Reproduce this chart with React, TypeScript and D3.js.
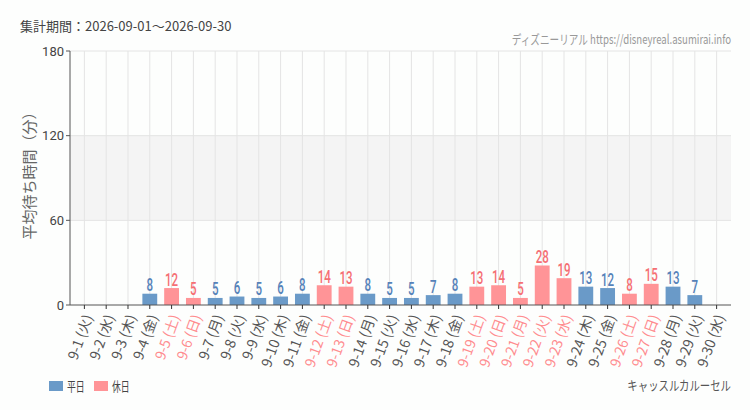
import { useEffect, useRef } from 'react'
import * as d3 from 'd3'

// 日付・曜日・待ち時間（分）
const days = [
  '9-1', '9-2', '9-3', '9-4', '9-5', '9-6', '9-7', '9-8', '9-9', '9-10',
  '9-11', '9-12', '9-13', '9-14', '9-15', '9-16', '9-17', '9-18', '9-19', '9-20',
  '9-21', '9-22', '9-23', '9-24', '9-25', '9-26', '9-27', '9-28', '9-29', '9-30'
]
const weekdays = [
  '火', '水', '木', '金', '土', '日', '月', '火', '水', '木',
  '金', '土', '日', '月', '火', '水', '木', '金', '土', '日',
  '月', '火', '水', '木', '金', '土', '日', '月', '火', '水'
]
const holidays = [
  '9-5', '9-6', '9-12', '9-13', '9-19', '9-20', '9-21', '9-22', '9-23', '9-26', '9-27'
]
const waitTimes: (number | null)[] = [
  null, null, null, 8, 12, 5, 5, 6, 5, 6,
  8, 14, 13, 8, 5, 5, 7, 8, 13, 14,
  5, 28, 19, 13, 12, 8, 15, 13, 7, null
]
const yTicks = [0, 60, 120, 180]

const W = 750
const H = 410
const margin = { top: 51, right: 19, bottom: 105, left: 70 }

const WEEKDAY_BAR = '#6a9ac8'
const HOLIDAY_BAR = '#ff9497'
const WEEKDAY_TEXT = '#5582b9'
const HOLIDAY_TEXT = '#f56f74'
const HOLIDAY_LABEL = '#ff8c8f'
const SANS = '"Roboto", "DejaVu Sans", sans-serif'
const JP = '"Noto Sans CJK JP", sans-serif'

export default function App() {
  const svgRef = useRef<SVGSVGElement>(null)

  useEffect(() => {
    if (!svgRef.current) return
    const svg = d3.select(svgRef.current)
    svg.selectAll('*').remove()

    const cw = W - margin.left - margin.right
    const ch = H - margin.top - margin.bottom

    svg.append('rect').attr('width', W).attr('height', H).attr('fill', '#fdfefd')

    const x = d3.scaleBand().domain(days).range([0, cw]).padding(0.32)
    const y = d3.scaleLinear().domain([0, 180]).range([ch, 0])
    const cx = (d: string) => (x(d) || 0) + x.bandwidth() / 2
    const isHoliday = (d: string) => holidays.includes(d)

    const g = svg.append('g').attr('transform', `translate(${margin.left},${margin.top})`)

    // 60-120 の帯
    g.append('rect')
      .attr('x', 0)
      .attr('y', y(120))
      .attr('width', cw)
      .attr('height', y(60) - y(120))
      .attr('fill', '#f4f4f4')

    // グリッド
    g.selectAll('.hgrid')
      .data(yTicks.filter(t => t > 0))
      .enter()
      .append('line')
      .attr('x1', 0)
      .attr('x2', cw)
      .attr('y1', d => y(d))
      .attr('y2', d => y(d))
      .attr('stroke', '#e4e4e4')

    g.selectAll('.vgrid')
      .data(days)
      .enter()
      .append('line')
      .attr('x1', d => cx(d))
      .attr('x2', d => cx(d))
      .attr('y1', 0)
      .attr('y2', ch)
      .attr('stroke', '#e4e4e4')

    // 棒
    const data = days.map((d, i) => ({ day: d, value: waitTimes[i] }))
    const valid = data.filter(d => d.value !== null) as { day: string; value: number }[]

    g.selectAll('.bar')
      .data(valid)
      .enter()
      .append('rect')
      .attr('x', d => x(d.day) || 0)
      .attr('y', d => y(d.value))
      .attr('width', x.bandwidth())
      .attr('height', d => ch - y(d.value))
      .attr('fill', d => (isHoliday(d.day) ? HOLIDAY_BAR : WEEKDAY_BAR))

    // 値ラベル（縦長の書体に見せるため横方向を縮める）
    g.selectAll('.value-label')
      .data(valid)
      .enter()
      .append('text')
      .attr('transform', d => `translate(${cx(d.day)},${y(d.value) - 2.5}) scale(0.64,1)`)
      .attr('text-anchor', 'middle')
      .style('font-family', SANS)
      .style('font-size', '18px')
      .style('font-weight', '500')
      .style('fill', d => (isHoliday(d.day) ? HOLIDAY_TEXT : WEEKDAY_TEXT))
      .text(d => d.value)

    // Y軸
    g.append('line').attr('x1', 0).attr('x2', 0).attr('y1', 0).attr('y2', ch).attr('stroke', '#555')
    const yt = g.selectAll('.ytick').data(yTicks).enter().append('g')
    yt.append('line')
      .attr('x1', -4)
      .attr('x2', 0)
      .attr('y1', d => y(d))
      .attr('y2', d => y(d))
      .attr('stroke', '#555')
    yt.append('text')
      .attr('x', -6)
      .attr('y', d => y(d))
      .attr('dy', '0.35em')
      .attr('text-anchor', 'end')
      .style('font-family', SANS)
      .style('font-size', '13px')
      .style('fill', '#444')
      .text(d => d)

    // X軸
    g.append('line').attr('x1', 0).attr('x2', cw).attr('y1', ch).attr('y2', ch).attr('stroke', '#555')
    g.selectAll('.xtick')
      .data(days)
      .enter()
      .append('line')
      .attr('x1', d => cx(d))
      .attr('x2', d => cx(d))
      .attr('y1', ch)
      .attr('y2', ch + 4)
      .attr('stroke', '#333')

    g.selectAll('.xlabel')
      .data(days)
      .enter()
      .append('text')
      .attr('transform', d => `translate(${cx(d) + 4},${ch + 10}) rotate(-70)`)
      .attr('text-anchor', 'end')
      .attr('dy', '0.35em')
      .style('font-family', JP)
      .style('font-size', '14px')
      .style('fill', d => (isHoliday(d) ? HOLIDAY_LABEL : '#555'))
      .text((d, i) => `${d} (${weekdays[i]})`)

    // Y軸タイトル
    svg.append('text')
      .attr('transform', 'translate(35,172) rotate(-90)')
      .attr('text-anchor', 'middle')
      .style('font-family', JP)
      .style('font-size', '15px')
      .style('fill', '#666')
      .text('平均待ち時間（分）')

    // タイトル・出典
    svg.append('text')
      .attr('x', 20)
      .attr('y', 31)
      .style('font-family', JP)
      .style('font-size', '13px')
      .style('fill', '#444')
      .text('集計期間：2026-09-01～2026-09-30')

    svg.append('text')
      .attr('transform', `translate(${W - margin.right},44) scale(0.74,1)`)
      .attr('text-anchor', 'end')
      .style('font-family', JP)
      .style('font-size', '13px')
      .style('fill', '#999')
      .text('ディズニーリアル https://disneyreal.asumirai.info')

    // 凡例
    const legend = [
      { label: '平日', color: WEEKDAY_BAR },
      { label: '休日', color: HOLIDAY_BAR }
    ]
    const lg = svg.selectAll('.legend').data(legend).enter().append('g')
      .attr('transform', (_, i) => `translate(${49 + i * 45},381)`)
    lg.append('rect').attr('width', 14).attr('height', 10).attr('fill', d => d.color)
    lg.append('text')
      .attr('transform', 'translate(18,5) scale(0.68,1)')
      .attr('dy', '0.35em')
      .style('font-family', JP)
      .style('font-size', '13px')
      .style('fill', '#444')
      .text(d => d.label)

    svg.append('text')
      .attr('transform', `translate(${W - margin.right},390) scale(0.8,1)`)
      .attr('text-anchor', 'end')
      .style('font-family', JP)
      .style('font-size', '13px')
      .style('fill', '#555')
      .text('キャッスルカルーセル')
  }, [])

  return (
    <svg
      ref={svgRef}
      width={W}
      height={H}
      style={{ position: 'absolute', left: 0, top: 0, display: 'block' }}
    />
  )
}
